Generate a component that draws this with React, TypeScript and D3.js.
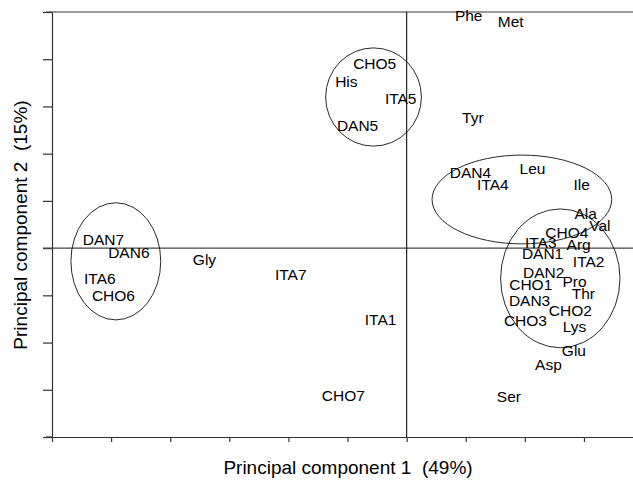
import React, { useEffect, useRef } from 'react';
import * as d3 from 'd3';

// sample scores (PC1, PC2)
const sampleNames = ['DAN1', 'DAN2', 'DAN3', 'DAN4', 'DAN5', 'DAN6', 'DAN7', 'ITA1', 'ITA2', 'ITA3', 'ITA4', 'ITA5', 'ITA6', 'ITA7', 'CHO1', 'CHO2', 'CHO3', 'CHO4', 'CHO5', 'CHO6', 'CHO7'];
const sampleX = [2.3, 2.32, 2.08, 1.08, -0.83, -4.7, -5.13, -0.44, 3.08, 2.27, 1.46, -0.1, -5.19, -1.96, 2.1, 2.77, 2.01, 2.71, -0.54, -4.96, -1.07];
const sampleY = [-0.12, -0.51, -1.1, 1.61, 2.59, -0.1, 0.19, -1.5, -0.29, 0.11, 1.34, 3.16, -0.65, -0.55, -0.76, -1.31, -1.54, 0.34, 3.92, -1.01, -3.13];

// amino acid loadings
const aminoNames = ['Phe', 'Met', 'His', 'Tyr', 'Leu', 'Ile', 'Ala', 'Val', 'Arg', 'Pro', 'Thr', 'Lys', 'Glu', 'Asp', 'Ser', 'Gly'];
const aminoX = [1.05, 1.76, -1.02, 1.12, 2.13, 2.96, 3.03, 3.27, 2.91, 2.84, 2.99, 2.84, 2.83, 2.4, 1.73, -3.42];
const aminoY = [4.92, 4.79, 3.54, 2.76, 1.68, 1.34, 0.74, 0.49, 0.07, -0.7, -0.95, -1.65, -2.16, -2.46, -3.15, -0.23];

// cluster ellipses
const groupCx = [-0.56, 1.95, 2.6, -4.92];
const groupCy = [3.2, 1.03, -0.64, -0.28];
const groupRx = [0.81, 1.52, 1.01, 0.76];
const groupRy = [1.04, 0.94, 1.47, 1.24];

const xTicks = [-6, -5, -4, -3, -2, -1, 0, 1, 2, 3];
const yTicks = [-4, -3, -2, -1, 0, 1, 2, 3, 4, 5];

export default function App() {
  const svgRef = useRef<SVGSVGElement>(null);

  const width = 633;
  const height = 483;
  const font = "'Liberation Sans', Arial, sans-serif";

  useEffect(() => {
    const svg = d3.select(svgRef.current);
    svg.selectAll('*').remove();

    const xScale = d3.scaleLinear().domain([-6, 3.83]).range([52, 633]);
    const yScale = d3.scaleLinear().domain([-4, 5]).range([437, 12]);

    // top frame line
    svg
      .append('line')
      .attr('x1', 46)
      .attr('x2', width)
      .attr('y1', yScale(5))
      .attr('y2', yScale(5))
      .attr('stroke', '#333')
      .attr('stroke-width', 1.2);

    // left axis
    svg
      .append('g')
      .attr('transform', `translate(${xScale(-6)},0)`)
      .call(d3.axisLeft(yScale).tickValues(yTicks).tickSize(9).tickSizeOuter(0).tickFormat(() => ''))
      .call((g) => g.selectAll('path,line').attr('stroke', '#333').attr('stroke-width', 1.2));

    // bottom axis
    svg
      .append('g')
      .attr('transform', `translate(0,${yScale(-4)})`)
      .call(d3.axisBottom(xScale).tickValues(xTicks).tickSize(5).tickSizeOuter(0).tickFormat(() => ''))
      .call((g) => g.selectAll('path,line').attr('stroke', '#333').attr('stroke-width', 1.2));
    svg
      .append('line')
      .attr('x1', 46)
      .attr('x2', xScale(-6))
      .attr('y1', yScale(-4))
      .attr('y2', yScale(-4))
      .attr('stroke', '#333')
      .attr('stroke-width', 1.2);

    // zero lines
    svg
      .append('line')
      .attr('x1', 43)
      .attr('x2', width)
      .attr('y1', yScale(0))
      .attr('y2', yScale(0))
      .attr('stroke', '#444')
      .attr('stroke-width', 1.2);
    svg
      .append('line')
      .attr('x1', xScale(0))
      .attr('x2', xScale(0))
      .attr('y1', yScale(5))
      .attr('y2', yScale(-4))
      .attr('stroke', '#222')
      .attr('stroke-width', 1.2);

    // ellipses round the groups
    svg
      .selectAll('ellipse')
      .data(groupCx)
      .enter()
      .append('ellipse')
      .attr('cx', (d) => xScale(d))
      .attr('cy', (d, i) => yScale(groupCy[i]))
      .attr('rx', (d, i) => xScale(groupRx[i]) - xScale(0))
      .attr('ry', (d, i) => yScale(0) - yScale(groupRy[i]))
      .attr('fill', 'none')
      .attr('stroke', '#111')
      .attr('stroke-width', 0.9);

    // labels
    const labels = sampleNames
      .map((n, i) => ({ name: n, x: sampleX[i], y: sampleY[i] }))
      .concat(aminoNames.map((n, i) => ({ name: n, x: aminoX[i], y: aminoY[i] })));

    svg
      .selectAll('text.lab')
      .data(labels)
      .enter()
      .append('text')
      .attr('class', 'lab')
      .text((d) => d.name)
      .attr('x', (d) => xScale(d.x))
      .attr('y', (d) => yScale(d.y))
      .attr('dy', '0.36em')
      .attr('text-anchor', 'middle')
      .attr('font-family', font)
      .attr('font-size', '15.5px')
      .attr('fill', '#000');

    // axis titles
    svg
      .append('text')
      .attr('x', 348)
      .attr('y', 474)
      .attr('text-anchor', 'middle')
      .attr('font-family', font)
      .attr('font-size', '19px')
      .attr('xml:space', 'preserve')
      .style('white-space', 'pre')
      .text('Principal component 1  (49%)');

    svg
      .append('text')
      .attr('x', -225)
      .attr('y', 27)
      .attr('transform', 'rotate(-90)')
      .attr('text-anchor', 'middle')
      .attr('font-family', font)
      .attr('font-size', '19px')
      .style('white-space', 'pre')
      .text('Principal component 2  (15%)');
  }, []);

  return (
    <svg
      ref={svgRef}
      width={width}
      height={height}
      style={{ position: 'absolute', left: 0, top: 0, background: '#fff' }}
    ></svg>
  );
}
